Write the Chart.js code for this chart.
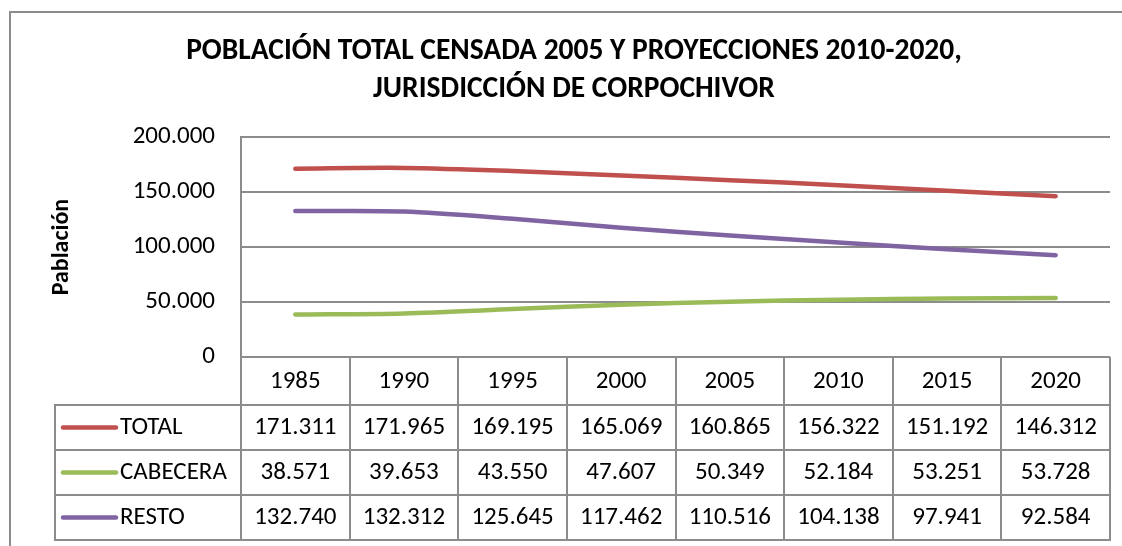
<!DOCTYPE html>
<html lang="es">
<head>
    <meta charset="UTF-8">
    <title>Población total censada 2005 y proyecciones 2010-2020</title>
    <script src="https://cdn.jsdelivr.net/npm/chart.js"></script>
    <style>
        html, body { margin: 0; padding: 0; background: #fff; }
        .chart-container { position: relative; width: 1122px; height: 546px; }
    </style>
</head>
<body>
    <div class="chart-container">
        <canvas id="poblacion-chart" width="1122" height="546"></canvas>
    </div>
    <script>
        const years = ['1985', '1990', '1995', '2000', '2005', '2010', '2015', '2020'];
        const seriesNames = ['TOTAL', 'CABECERA', 'RESTO'];
        const total = [171311, 171965, 169195, 165069, 160865, 156322, 151192, 146312];
        const cabecera = [38571, 39653, 43550, 47607, 50349, 52184, 53251, 53728];
        const resto = [132740, 132312, 125645, 117462, 110516, 104138, 97941, 92584];
        const yMax = 200000;
        const yStep = 50000;

        const lineColors = ['#C0504D', '#9BBB59', '#8064A2'];
        const gridColor = '#8c8c8c';
        const fontFamily = "Carlito, Lato, 'Open Sans', sans-serif";
        const textSize = 25;

        function formatNumber(v) {
            return String(v).replace(/\B(?=(\d{3})+(?!\d))/g, '.');
        }

        // outer frame + data table under the plot
        const frameAndTable = {
            id: 'frameAndTable',
            afterLayout(chart) {
                // title sits a bit right of the canvas centre in the original
                if (chart.titleBlock) {
                    chart.titleBlock.left += 19;
                    chart.titleBlock.right += 19;
                }
            },
            beforeDraw(chart) {
                const ctx = chart.ctx;
                ctx.save();
                ctx.fillStyle = '#fff';
                ctx.fillRect(0, 0, chart.width, chart.height);
                ctx.strokeStyle = gridColor;
                ctx.lineWidth = 2;
                ctx.strokeRect(10, 12, chart.width + 20, chart.height + 20);
                ctx.restore();
            },
            afterDraw(chart) {
                const { ctx, chartArea, scales: { x } } = chart;
                const left = chartArea.left;
                const right = chartArea.right;
                const colW = (right - left) / years.length;
                const top = chartArea.bottom;
                const headerBottom = top + 48;
                const rowH = 45;
                const tableBottom = headerBottom + rowH * seriesNames.length;
                const legendLeft = 55;

                ctx.save();
                ctx.strokeStyle = gridColor;
                ctx.lineWidth = 2;
                ctx.beginPath();
                // vertical lines between columns
                for (let i = 0; i <= years.length; i++) {
                    const xx = Math.round(left + i * colW);
                    ctx.moveTo(xx, top);
                    ctx.lineTo(xx, tableBottom);
                }
                ctx.moveTo(legendLeft, headerBottom);
                ctx.lineTo(legendLeft, tableBottom);
                // horizontal row lines
                for (let r = 0; r <= seriesNames.length; r++) {
                    const yy = headerBottom + r * rowH;
                    ctx.moveTo(legendLeft - 1, yy);
                    ctx.lineTo(right + 1, yy);
                }
                ctx.stroke();

                const datasets = chart.data.datasets;
                ctx.font = textSize + 'px ' + fontFamily;
                ctx.fillStyle = '#000';
                ctx.textBaseline = 'middle';
                datasets.forEach((ds, r) => {
                    const cy = headerBottom + r * rowH + rowH / 2;
                    // legend key
                    ctx.strokeStyle = ds.borderColor;
                    ctx.lineWidth = 4.5;
                    ctx.lineCap = 'round';
                    ctx.beginPath();
                    ctx.moveTo(63, cy);
                    ctx.lineTo(116, cy);
                    ctx.stroke();
                    ctx.textAlign = 'left';
                    ctx.fillText(ds.label, 120, cy);
                    // values
                    ctx.textAlign = 'center';
                    ds.data.forEach((v, i) => {
                        ctx.fillText(formatNumber(v), x.getPixelForTick(i), cy);
                    });
                });
                ctx.restore();
            }
        };

        const seriesValues = [total, cabecera, resto];
        const datasets = seriesNames.map((name, i) => ({
            label: name,
            data: seriesValues[i],
            borderColor: lineColors[i],
            backgroundColor: lineColors[i],
            borderWidth: 4.5,
            borderCapStyle: 'round',
            pointRadius: 0,
            fill: false,
            tension: 0.3
        }));

        new Chart(document.getElementById('poblacion-chart'), {
            type: 'line',
            data: { labels: years, datasets: datasets },
            plugins: [frameAndTable],
            options: {
                responsive: false,
                animation: false,
                maintainAspectRatio: false,
                layout: { padding: { left: 0, right: 12, top: 0, bottom: 0 } },
                plugins: {
                    legend: { display: false },
                    tooltip: { enabled: false },
                    title: {
                        display: true,
                        text: ['POBLACIÓN TOTAL CENSADA 2005 Y PROYECCIONES 2010-2020,', 'JURISDICCIÓN DE CORPOCHIVOR'],
                        color: '#000',
                        font: { family: fontFamily, size: 29.5, weight: 'bold', lineHeight: 1.29 },
                        padding: { top: 33, bottom: 28 }
                    }
                },
                scales: {
                    x: {
                        offset: true,
                        grid: { display: false, drawTicks: false },
                        border: { display: false },
                        ticks: {
                            color: '#000',
                            font: { family: fontFamily, size: textSize },
                            padding: 10,
                            maxRotation: 0
                        },
                        afterFit(scale) { scale.height = 189; }
                    },
                    y: {
                        min: 0,
                        max: yMax,
                        grid: { color: gridColor, lineWidth: 2, drawTicks: false },
                        border: { display: true, color: gridColor, width: 2 },
                        ticks: {
                            stepSize: yStep,
                            color: '#000',
                            font: { family: fontFamily, size: textSize },
                            padding: 26,
                            callback: v => formatNumber(v)
                        },
                        title: {
                            display: true,
                            text: 'Pablación',
                            color: '#000',
                            font: { family: fontFamily, size: 24, weight: 'bold', lineHeight: 1.2 },
                            padding: { top: 48, bottom: 0 }
                        },
                        afterFit(scale) { scale.width = 241; }
                    }
                }
            }
        });
    </script>
</body>
</html>
